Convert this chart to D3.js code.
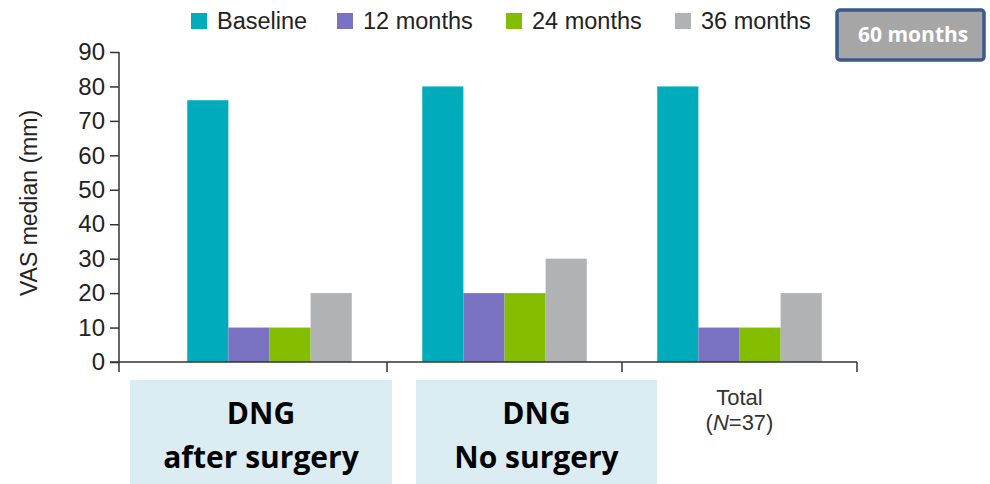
<!DOCTYPE html>
<html>
<head>
<meta charset="utf-8">
<script src="https://cdn.jsdelivr.net/npm/d3@7"></script>
<style>
  body { margin: 0; background: #fff; }
  svg { display: block; }
</style>
</head>
<body>
<script>
// data
var categories = ["DNG after surgery", "DNG No surgery", "Total"];
var seriesNames = ["Baseline", "12 months", "24 months", "36 months"];
var baseline = [76, 80, 80];
var m12 = [10, 20, 10];
var m24 = [10, 20, 10];
var m36 = [20, 30, 20];
var yTicks = [0, 10, 20, 30, 40, 50, 60, 70, 80, 90];
var colors = ["#00acbb", "#7872c0", "#84bc00", "#b1b2b4"];

var series = [baseline, m12, m24, m36];

var width = 990, height = 484;
var svg = d3.select("body").append("svg")
  .attr("width", width)
  .attr("height", height);

var axisColor = "#333";
var font = "'Liberation Sans', Arial, sans-serif";
var boldFont = "'Open Sans', Lato, sans-serif";

// scales
var x0 = d3.scaleBand()
  .domain(categories)
  .range([152, 857])
  .paddingInner(0.3)
  .paddingOuter(0.15);

var x1 = d3.scaleBand()
  .domain(seriesNames)
  .range([0, x0.bandwidth()]);

var y = d3.scaleLinear()
  .domain([0, 90])
  .range([362, 52]);

// bars
var groups = svg.selectAll(".grp")
  .data(categories)
  .enter()
  .append("g")
  .attr("class", "grp")
  .attr("transform", function(d){ return "translate(" + x0(d) + ",0)"; });

groups.selectAll("rect")
  .data(function(d, i){
    return seriesNames.map(function(s, j){ return {s: s, v: series[j][i], c: colors[j]}; });
  })
  .enter()
  .append("rect")
  .attr("x", function(d){ return x1(d.s); })
  .attr("y", function(d){ return y(d.v); })
  .attr("width", x1.bandwidth())
  .attr("height", function(d){ return y(0) - y(d.v); })
  .attr("fill", function(d){ return d.c; });

// y axis
var yAxis = d3.axisLeft(y).tickValues(yTicks).tickSize(9).tickPadding(5);
var gy = svg.append("g")
  .attr("transform", "translate(119,0)")
  .call(yAxis);
gy.select(".domain").remove();
gy.selectAll(".tick line").attr("stroke", axisColor).attr("stroke-width", 1.5);
gy.selectAll(".tick text")
  .attr("fill", "#222")
  .style("font-family", font)
  .style("font-size", "24px");
svg.append("line")
  .attr("x1", 119).attr("x2", 119)
  .attr("y1", y(90)).attr("y2", y(0) + 10)
  .attr("stroke", axisColor).attr("stroke-width", 1.5);

// x axis line with boundary ticks
var step = x0.step();
svg.append("line")
  .attr("x1", 110).attr("x2", x0(categories[2]) + x0.bandwidth() + step * 0.15)
  .attr("y1", y(0)).attr("y2", y(0))
  .attr("stroke", axisColor).attr("stroke-width", 1.5);
svg.selectAll(".xtick")
  .data(categories)
  .enter()
  .append("line")
  .attr("class", "xtick")
  .attr("x1", function(d){ return x0(d) + x0.bandwidth() + step * 0.15; })
  .attr("x2", function(d){ return x0(d) + x0.bandwidth() + step * 0.15; })
  .attr("y1", y(0)).attr("y2", y(0) + 10)
  .attr("stroke", axisColor).attr("stroke-width", 1.5);

// y label
svg.append("text")
  .attr("transform", "translate(37,203) rotate(-90)")
  .attr("text-anchor", "middle")
  .attr("fill", "#222")
  .style("font-family", font)
  .style("font-size", "23px")
  .text("VAS median (mm)");

// legend
var legendX = [191, 337, 506, 675];
var legend = svg.selectAll(".leg")
  .data(seriesNames)
  .enter()
  .append("g")
  .attr("class", "leg")
  .attr("transform", function(d, i){ return "translate(" + legendX[i] + ",0)"; });
legend.append("rect")
  .attr("x", 0).attr("y", 13)
  .attr("width", 16).attr("height", 16)
  .attr("fill", function(d, i){ return colors[i]; });
legend.append("text")
  .attr("x", 26).attr("y", 29)
  .attr("fill", "#222")
  .style("font-family", font)
  .style("font-size", "23.5px")
  .text(function(d){ return d; });

// 60 months box
svg.append("rect")
  .attr("x", 837).attr("y", 10)
  .attr("width", 147).attr("height", 50)
  .attr("rx", 3)
  .attr("fill", "#a6a6a6")
  .attr("stroke", "#3b5a8c")
  .attr("stroke-width", 3.5);
svg.append("text")
  .attr("x", 858).attr("y", 42)
  .attr("fill", "#fff")
  .style("font-family", boldFont)
  .style("font-weight", "bold")
  .style("font-size", "21px")
  .text("60 months");

// category labels
var boxes = [
  {x: 130, w: 262, l1: "DNG", l2: "after surgery"},
  {x: 416, w: 241, l1: "DNG", l2: "No surgery"}
];
var cb = svg.selectAll(".cbox")
  .data(boxes)
  .enter()
  .append("g")
  .attr("class", "cbox");
cb.append("rect")
  .attr("x", function(d){ return d.x; })
  .attr("y", 380)
  .attr("width", function(d){ return d.w; })
  .attr("height", 104)
  .attr("fill", "#dbedf3");
cb.append("text")
  .attr("x", function(d){ return d.x + d.w / 2; })
  .attr("y", 424)
  .attr("text-anchor", "middle")
  .attr("fill", "#000")
  .style("font-family", boldFont)
  .style("font-weight", "bold")
  .style("font-size", "30px")
  .text(function(d){ return d.l1; });
cb.append("text")
  .attr("x", function(d){ return d.x + d.w / 2; })
  .attr("y", 468)
  .attr("text-anchor", "middle")
  .attr("fill", "#000")
  .style("font-family", boldFont)
  .style("font-weight", "bold")
  .style("font-size", "30px")
  .text(function(d){ return d.l2; });

// Total label
var tx = x0(categories[2]) + x0.bandwidth() / 2;
svg.append("text")
  .attr("x", tx).attr("y", 405)
  .attr("text-anchor", "middle")
  .attr("fill", "#333")
  .style("font-family", font)
  .style("font-size", "22px")
  .text("Total");
var t2 = svg.append("text")
  .attr("x", tx).attr("y", 430)
  .attr("text-anchor", "middle")
  .attr("fill", "#333")
  .style("font-family", font)
  .style("font-size", "22px");
t2.append("tspan").text("(");
t2.append("tspan").style("font-style", "italic").text("N");
t2.append("tspan").text("=37)");
</script>
</body>
</html>
